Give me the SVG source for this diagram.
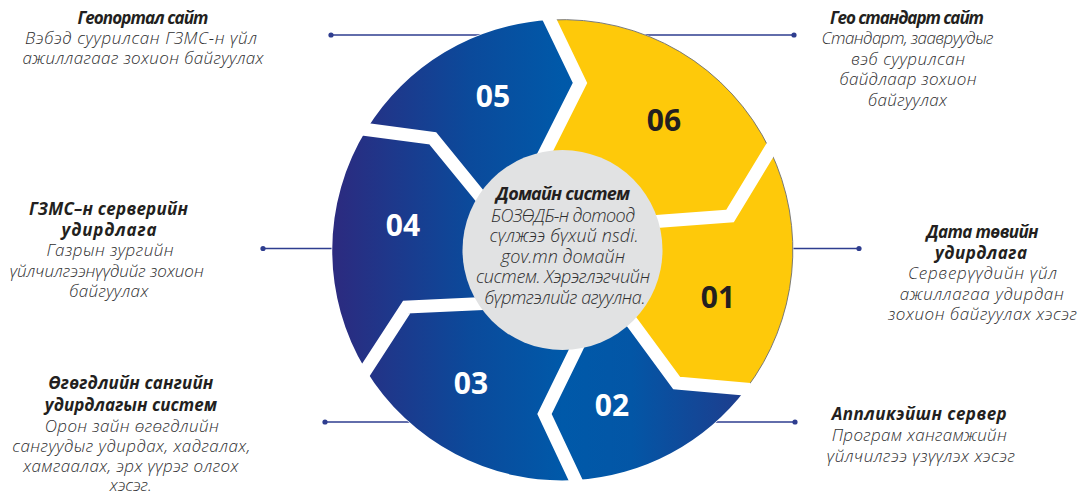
<svg xmlns="http://www.w3.org/2000/svg" width="1079" height="497" viewBox="0 0 1079 497">
  <defs>
    <linearGradient id="blueGrad" gradientUnits="userSpaceOnUse" x1="332" y1="0" x2="793" y2="0">
      <stop offset="0" stop-color="#2c2a7f"/>
      <stop offset="0.3" stop-color="#0b4a9b"/>
      <stop offset="0.5" stop-color="#0059a9"/>
      <stop offset="0.65" stop-color="#0356a6"/>
      <stop offset="1" stop-color="#2a3282"/>
    </linearGradient>
    <style>
      .blue { fill: url(#blueGrad); }
      .yellow { fill: #fec90a; stroke: #6d6e71; stroke-width: 0.9; }
      .gap { fill: none; stroke: #ffffff; stroke-width: 13; stroke-linejoin: miter; stroke-miterlimit: 10; }
      .num { font-family: "Open Sans", "Noto Sans", sans-serif; font-weight: 700; font-size: 30px; text-anchor: middle; }
      .numw { fill: #ffffff; }
      .numd { fill: #231f20; }
      .title { font-family: "Open Sans", "Noto Sans", sans-serif; font-weight: 700; font-style: italic; font-size: 17px; fill: #231f20; text-anchor: middle; }
      .body { font-family: "Open Sans", "Noto Sans", sans-serif; font-weight: 300; font-style: italic; font-size: 17px; fill: #2e2e2f; text-anchor: middle; }
      .ctitle { font-family: "Open Sans", "Noto Sans", sans-serif; font-weight: 700; font-style: italic; font-size: 18px; fill: #231f20; text-anchor: middle; }
      .cbody { font-family: "Open Sans", "Noto Sans", sans-serif; font-weight: 300; font-style: italic; font-size: 18px; fill: #2e2e2f; text-anchor: middle; }
      .conn { stroke: #2e3d8f; stroke-width: 1.3; fill: none; }
      .dot { fill: #2e3d8f; }
    </style>
  </defs>
  <rect width="1079" height="497" fill="#ffffff"/>

  <g id="connectors">
    <line class="conn" x1="331" y1="35" x2="794" y2="35"/>
    <circle class="dot" cx="331" cy="35" r="2.6"/>
    <circle class="dot" cx="794" cy="35" r="2.6"/>
    <line class="conn" x1="263" y1="248.5" x2="859" y2="248.5"/>
    <circle class="dot" cx="263" cy="248.5" r="2.6"/>
    <circle class="dot" cx="859" cy="248.5" r="2.6"/>
    <line class="conn" x1="325" y1="422" x2="795" y2="422"/>
    <circle class="dot" cx="325" cy="422" r="2.6"/>
    <circle class="dot" cx="795" cy="422" r="2.6"/>
  </g>

  <g id="wheel">
    <circle cx="562.5" cy="250" r="231" fill="#ffffff"/>
    <g id="seg-01">
      <path class="yellow" d="M770,150 A230,230 0 0 1 746,389 L676.7,383 L610,293 L562.5,250 L600,226 L663,221 L730,216 Z"/>
      <text class="num numd" x="718" y="308">01</text>
    </g>
    <g id="seg-02">
      <path class="blue" d="M746,389 A230,230 0 0 1 575.5,480 L544.5,414 L588,325 L562.5,250 L610,293 L676.7,383 Z"/>
      <text class="num numw" x="612" y="416">02</text>
    </g>
    <g id="seg-03">
      <path class="blue" d="M575.5,480 A230,230 0 0 1 365.8,370 L406.7,307 L520,302 L562.5,250 L588,325 L544.5,414 Z"/>
      <text class="num numw" x="471" y="394">03</text>
    </g>
    <g id="seg-04">
      <path class="blue" d="M365.8,370 A230,230 0 0 1 366.5,129.6 L432.8,138.3 L499.8,220.5 L562.5,250 L520,302 L406.7,307 Z"/>
      <text class="num numw" x="403" y="236">04</text>
    </g>
    <g id="seg-05">
      <path class="blue" d="M366.5,129.6 A230,230 0 0 1 549.7,20 L580,83 L530,182 L562.5,250 L499.8,220.5 L432.8,138.3 Z"/>
      <text class="num numw" x="493" y="107">05</text>
    </g>
    <g id="seg-06">
      <path class="yellow" d="M549.7,20 A230,230 0 0 1 770,150 L730,216 L663,221 L600,226 L562.5,250 L530,182 L580,83 Z"/>
      <text class="num numd" x="664" y="131">06</text>
    </g>
    <g id="gaps">
      <polyline class="gap" points="772.5,146 730,216 663,221 600,226"/>
      <polyline class="gap" points="750,389.4 676.7,383 634,325 610,293"/>
      <polyline class="gap" points="577.2,483.6 544.5,414 575.8,350 588,325"/>
      <polyline class="gap" points="363.6,373.4 406.7,307 478,303.7 520,302"/>
      <polyline class="gap" points="362.5,129 432.8,138.3 479,195 499.8,220.5"/>
      <polyline class="gap" points="548,16.4 580,83 545.8,151 530,182"/>
    </g>
  </g>

  <g id="center">
    <circle cx="562.5" cy="250" r="100" fill="#e1e2e3"/>
    <text class="ctitle" x="563" y="200" textLength="134" lengthAdjust="spacing">Домайн систем</text>
    <text class="cbody" x="563" y="221.5" textLength="144" lengthAdjust="spacing">БОЗӨДБ-н дотоод</text>
    <text class="cbody" x="564" y="242" textLength="149" lengthAdjust="spacing">сүлжээ бүхий nsdi.</text>
    <text class="cbody" x="563" y="262.5" textLength="124" lengthAdjust="spacing">gov.mn домайн</text>
    <text class="cbody" x="563" y="283" textLength="174" lengthAdjust="spacing">систем. Хэрэглэгчийн</text>
    <text class="cbody" x="565" y="303.5" textLength="161" lengthAdjust="spacing">бүртгэлийг агуулна.</text>
  </g>

  <g id="label-05">
    <text class="title" x="143" y="23.5" textLength="131" lengthAdjust="spacing">Геопортал сайт</text>
    <text class="body" x="141" y="44" textLength="232" lengthAdjust="spacing">Вэбэд суурилсан ГЗМС-н үйл</text>
    <text class="body" x="143" y="64" textLength="241" lengthAdjust="spacing">ажиллагааг зохион байгуулах</text>
  </g>
  <g id="label-06">
    <text class="title" x="907" y="23.5" textLength="154" lengthAdjust="spacing">Гео стандарт сайт</text>
    <text class="body" x="907.5" y="44" textLength="172" lengthAdjust="spacing">Стандарт, заавруудыг</text>
    <text class="body" x="908" y="64.5" textLength="114" lengthAdjust="spacing">вэб суурилсан</text>
    <text class="body" x="908" y="85" textLength="137" lengthAdjust="spacing">байдлаар зохион</text>
    <text class="body" x="907.5" y="105.5" textLength="79" lengthAdjust="spacing">байгуулах</text>
  </g>
  <g id="label-04">
    <text class="title" x="108.5" y="215" textLength="159" lengthAdjust="spacing">ГЗМС–н серверийн</text>
    <text class="title" x="109" y="235.5" textLength="95" lengthAdjust="spacing">удирдлага</text>
    <text class="body" x="110" y="256" textLength="127" lengthAdjust="spacing">Газрын зургийн</text>
    <text class="body" x="106.7" y="276.5" textLength="194" lengthAdjust="spacing">үйлчилгээнүүдийг зохион</text>
    <text class="body" x="108.8" y="297" textLength="79" lengthAdjust="spacing">байгуулах</text>
  </g>
  <g id="label-01">
    <text class="title" x="982.5" y="238" textLength="112" lengthAdjust="spacing">Дата төвийн</text>
    <text class="title" x="981" y="258.5" textLength="92" lengthAdjust="spacing">удирдлага</text>
    <text class="body" x="982.5" y="279" textLength="149" lengthAdjust="spacing">Серверүүдийн үйл</text>
    <text class="body" x="981.7" y="299.5" textLength="164" lengthAdjust="spacing">ажиллагаа удирдан</text>
    <text class="body" x="982.5" y="320" textLength="189" lengthAdjust="spacing">зохион байгуулах хэсэг</text>
  </g>
  <g id="label-03">
    <text class="title" x="130.8" y="389" textLength="165" lengthAdjust="spacing">Өгөгдлийн сангийн</text>
    <text class="title" x="130.8" y="410.5" textLength="172" lengthAdjust="spacing">удирдлагын систем</text>
    <text class="body" x="131.7" y="431.5" textLength="174" lengthAdjust="spacing">Орон зайн өгөгдлийн</text>
    <text class="body" x="131.3" y="451.5" textLength="238" lengthAdjust="spacing">сангуудыг удирдах, хадгалах,</text>
    <text class="body" x="130.8" y="471.5" textLength="215" lengthAdjust="spacing">хамгаалах, эрх үүрэг олгох</text>
    <text class="body" x="130.8" y="491" textLength="42" lengthAdjust="spacing">хэсэг.</text>
  </g>
  <g id="label-02">
    <text class="title" x="919.2" y="420" textLength="175" lengthAdjust="spacing">Аппликэйшн сервер</text>
    <text class="body" x="919.2" y="441" textLength="175" lengthAdjust="spacing">Програм хангамжийн</text>
    <text class="body" x="920.8" y="461.5" textLength="188" lengthAdjust="spacing">үйлчилгээ үзүүлэх хэсэг</text>
  </g>
</svg>
